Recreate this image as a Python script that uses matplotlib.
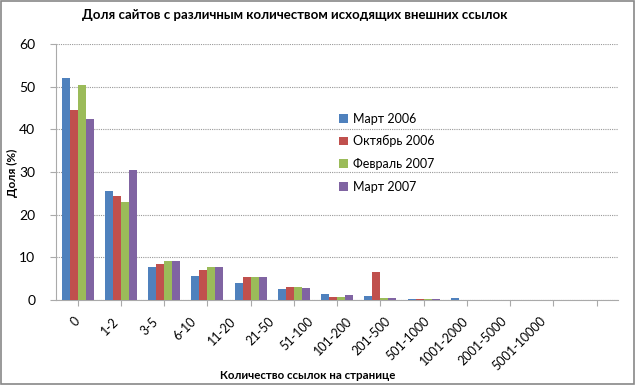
import numpy as np
import matplotlib
matplotlib.use("Agg")
import matplotlib.pyplot as plt

categories = ["0", "1-2", "3-5", "6-10", "11-20", "21-50", "51-100", "101-200",
              "201-500", "501-1000", "1001-2000", "2001-5000", "5001-10000"]
series_names = ["Март 2006", "Октябрь 2006", "Февраль 2007", "Март 2007"]
mar_2006 = [52.0, 25.5, 7.8, 5.5, 3.9, 2.5, 1.4, 0.9, 0.2, 0.4, 0.0, 0.0, 0.0]
oct_2006 = [44.4, 24.3, 8.4, 7.0, 5.3, 3.0, 0.8, 6.5, 0.2, 0.05, 0.0, 0.0, 0.0]
feb_2007 = [50.3, 22.9, 9.1, 7.8, 5.4, 3.0, 0.6, 0.4, 0.2, 0.05, 0.0, 0.0, 0.0]
mar_2007 = [42.5, 30.5, 9.1, 7.8, 5.4, 2.7, 1.1, 0.4, 0.2, 0.05, 0.0, 0.0, 0.0]
colors = ["#4F81BD", "#C0504D", "#9BBB59", "#8064A2"]

plt.rcParams["font.family"] = ["Lato", "DejaVu Sans"]

fig = plt.figure(figsize=(6.36, 3.85), dpi=100)
ax = fig.add_axes([0.088, 0.221, 0.884, 0.665])

x = np.arange(len(categories))
w = 0.185
for i, (vals, name) in enumerate(zip([mar_2006, oct_2006, feb_2007, mar_2007], series_names)):
    ax.bar(x + (i - 1.5) * w, vals, w, color=colors[i], label=name, zorder=3)

ax.set_xlim(-0.5, len(categories) - 0.5)
ax.set_ylim(0, 60)
ax.set_yticks(range(0, 61, 10))
ax.yaxis.grid(True, color="#999999", linestyle=(0, (1, 1)), linewidth=0.8, zorder=0)
for s in ["top", "right"]:
    ax.spines[s].set_visible(False)
ax.spines["left"].set_color("#aaaaaa")
ax.spines["bottom"].set_color("#aaaaaa")
ax.tick_params(axis="y", length=4, color="#aaaaaa", labelsize=10, pad=11)
ax.tick_params(axis="x", length=4, color="#aaaaaa")
ax.set_xticks(x)
ax.set_xticklabels([])

# Excel-style category labels, spaced a bit tighter than the ticks
for i, lab in enumerate(categories):
    fig.text((74 + 38.8 * i) / 636, 1 - 315 / 385, lab, rotation=45, ha="right", va="top",
             rotation_mode="anchor", fontsize=9)

fig.text(0.464, 0.96, "Доля сайтов с различным количеством исходящих внешних ссылок",
         ha="center", va="center", fontsize=9.5, fontweight="bold")
fig.text(0.483, 0.025, "Количество ссылок на странице", ha="center", va="center",
         fontsize=8.3, fontweight="bold")
fig.text(0.019, 0.55, "Доля (%)", ha="center", va="center", rotation=90,
         fontsize=8.5, fontweight="bold")

ax.legend(loc="upper left", bbox_to_anchor=(0.483, 0.775), frameon=False, fontsize=9,
          handlelength=0.7, handleheight=0.7, handletextpad=0.4, labelspacing=0.85)

fig.patches.append(plt.Rectangle((0.002, 0.003), 0.995, 0.994, transform=fig.transFigure,
                                 fill=False, edgecolor="#888888", linewidth=1.2))

fig.savefig("out.png", dpi=100)
